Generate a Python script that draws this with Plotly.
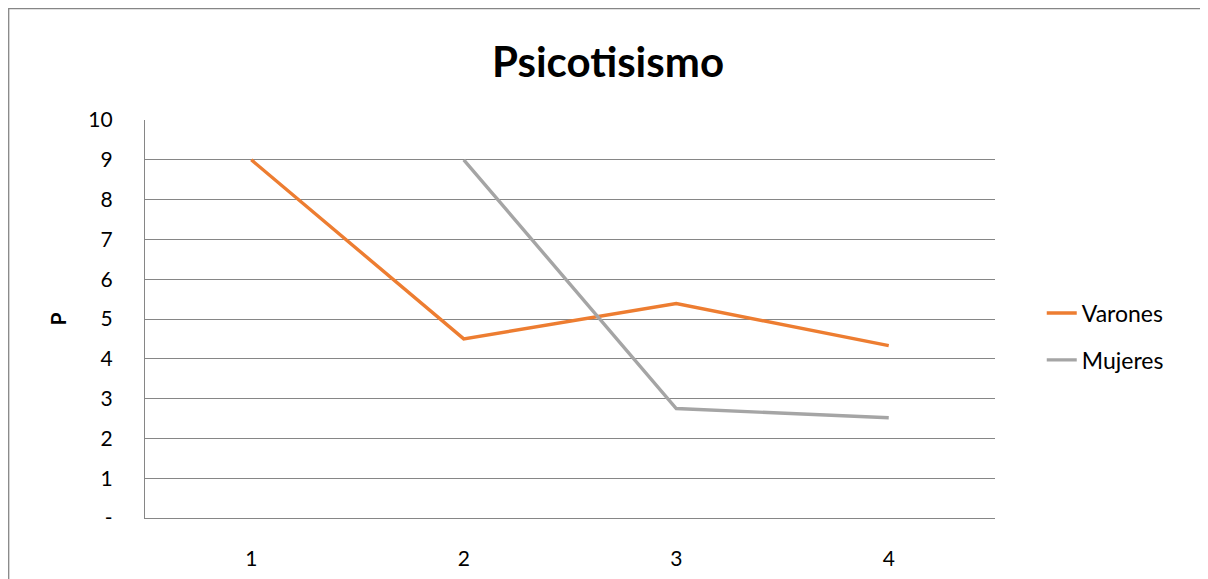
import plotly.graph_objects as go

categories = ["1", "2", "3", "4"]
varones = [9, 4.5, 5.39, 4.33]
mujeres = [None, 9, 2.75, 2.52]
y_tick_vals = [0, 1, 2, 3, 4, 5, 6, 7, 8, 9, 10]
y_tick_text = ["-", "1", "2", "3", "4", "5", "6", "7", "8", "9", "10"]

FONT = "Lato, Carlito, 'Open Sans', sans-serif"

# page body offset ~8px; figure coordinates compensate for it
L, T, W, H = 137, 112, 850, 398

fig = go.Figure()
fig.add_trace(go.Scatter(x=categories, y=varones, mode="lines", name="Varones",
                         legendgroup="v",
                         line=dict(color="#ED7D31", width=3.4)))
fig.add_trace(go.Scatter(x=categories, y=mujeres, mode="lines", name="Mujeres",
                         legendgroup="m",
                         line=dict(color="#A5A5A5", width=3.4), connectgaps=False))

fig.update_layout(
    width=1208, height=579,
    margin=dict(l=L, r=1208 - L - W, t=T, b=579 - T - H),
    paper_bgcolor="white", plot_bgcolor="white",
    font=dict(family=FONT, color="#000000", size=21),
    title=dict(text="<b>Psicotisismo</b>", x=600 / 1208, xanchor="center",
               y=1 - 54 / 579, yanchor="middle", font=dict(size=42, family=FONT)),
    showlegend=True,
    legend=dict(x=1.055, y=0.456, xanchor="left", yanchor="middle",
                font=dict(size=23), tracegroupgap=14,
                bgcolor="rgba(0,0,0,0)"),
    xaxis=dict(type="category", range=[-0.5, 3.5], showgrid=False,
               showline=True, linecolor="#868686", linewidth=1.3,
               ticks="", tickfont=dict(size=21), ticklabelstandoff=22),
    yaxis=dict(range=[0, 10], tickvals=y_tick_vals, ticktext=y_tick_text,
               showgrid=True, gridcolor="#868686", gridwidth=1.3,
               showline=True, linecolor="#868686", linewidth=1.3,
               zeroline=False, ticks="", tickfont=dict(size=21),
               ticklabelstandoff=27,
               title=dict(text="<b>P</b>", font=dict(size=21), standoff=15)),
    shapes=[dict(type="rect", xref="paper", yref="paper",
                 x0=(0.7 - L) / W, x1=1.5, y0=-0.5, y1=(T + H - 0.7) / H,
                 line=dict(color="#868686", width=1.3), fillcolor="rgba(0,0,0,0)",
                 layer="below")],
)

fig.write_html("out.html")
